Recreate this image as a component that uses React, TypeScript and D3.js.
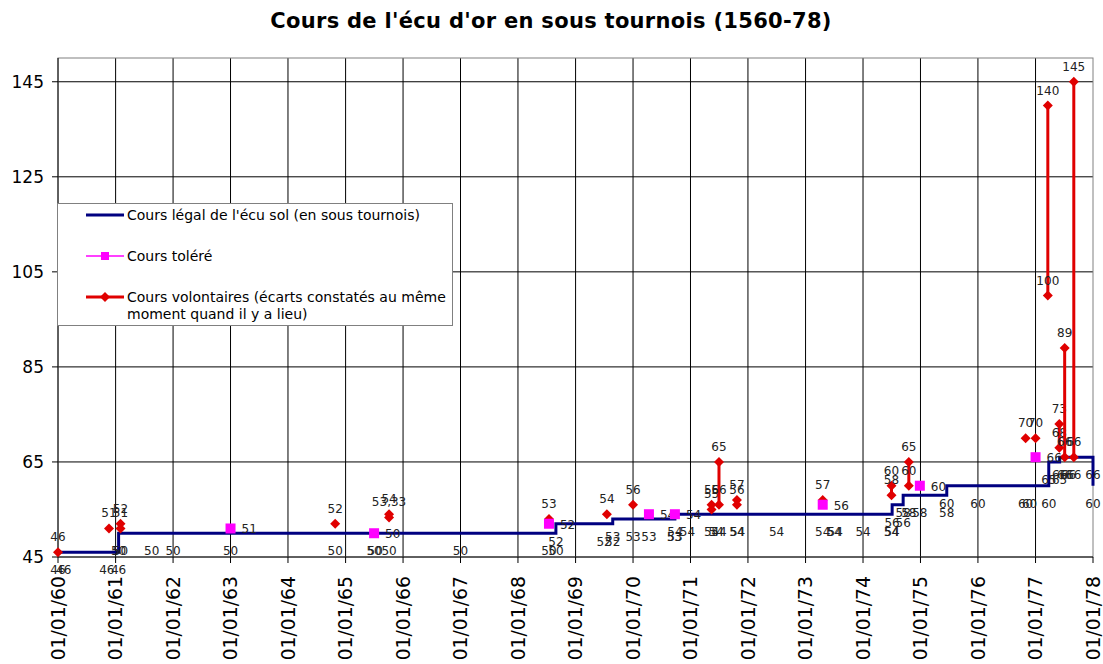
import * as d3 from 'd3';

// Cours légal (step line), one entry per point
const legalDates = [
  '1560-01-01', '1560-02-06', '1560-11-06', '1561-01-20', '1561-01-20', '1561-02-01',
  '1561-08-18', '1562-01-01', '1563-01-01', '1564-10-27', '1565-07-01', '1565-07-08',
  '1565-10-04', '1567-01-01', '1568-07-16', '1568-08-29', '1568-08-29', '1569-07-01',
  '1569-08-25', '1569-08-25', '1570-01-01', '1570-04-12', '1570-09-20', '1570-09-24',
  '1570-09-24', '1570-12-13', '1571-05-15', '1571-06-13', '1571-07-01', '1571-10-23',
  '1571-10-27', '1572-07-01', '1573-04-20', '1573-07-01', '1573-07-08', '1574-01-01',
  '1574-07-01', '1574-07-05', '1574-07-05', '1574-09-13', '1574-09-13', '1574-10-19',
  '1574-12-28', '1575-06-17', '1575-06-17', '1576-01-01', '1576-10-30', '1576-11-24',
  '1577-03-26', '1577-03-26', '1577-06-03', '1577-06-03', '1577-07-05', '1577-07-30',
  '1577-09-01', '1578-01-01', '1578-01-01',
];
const legalValues = [
  46, 46, 46, 46, 50, 50,
  50, 50, 50, 50, 50, 50,
  50, 50, 50, 50, 52, 52,
  52, 53, 53, 53, 53, 53,
  54, 54, 54, 54, 54, 54,
  54, 54, 54, 54, 54, 54,
  54, 54, 56, 56, 58, 58,
  58, 58, 60, 60, 60, 60,
  60, 65, 65, 66, 66, 66,
  66, 66, 60,
];

// Cours toléré
const toleratedDates = [
  '1563-01-01', '1565-07-01', '1568-07-16', '1570-04-12',
  '1570-09-24', '1573-04-20', '1574-12-28', '1577-01-01',
];
const toleratedValues = [51, 50, 52, 54, 54, 56, 60, 66];

// Cours volontaires: one or two values (range) per date
const voluntaryDates = [
  '1560-01-01', '1560-11-20', '1561-02-01', '1564-10-27', '1565-10-04',
  '1568-07-16', '1569-07-19', '1570-01-01', '1571-05-15', '1571-07-01',
  '1571-10-23', '1573-04-20', '1574-07-01', '1574-10-19', '1576-10-30',
  '1577-01-01', '1577-03-20', '1577-06-01', '1577-07-05', '1577-09-01',
];
const voluntaryValues = [
  [46], [51], [52, 51], [52], [54, 53.33],
  [53], [54], [56], [56, 55], [65, 56],
  [57, 56], [57], [60, 58], [65, 60], [70],
  [70], [140, 100], [73, 68], [89, 66], [145, 66],
];

const yTicks = [45, 65, 85, 105, 125, 145];

const W = 1103;
const H = 664;
const FONT = 'Verdana, "DejaVu Sans", sans-serif';
const NAVY = '#000080';
const MAGENTA = '#ff00ff';
const RED = '#e00000';

const parse = d3.utcParse('%Y-%m-%d');
const fmtDate = d3.utcFormat('%d/%m/%y');
const fmtVal = (v: number) => (Number.isInteger(v) ? String(v) : v.toFixed(2).replace('.', ','));

const diamond = (x: number, y: number, r: number) =>
  `M${x},${y - r}L${x + r},${y}L${x},${y + r}L${x - r},${y}Z`;

export default function App() {
  const x = d3
    .scaleUtc()
    .domain([parse('1560-01-01')!, parse('1578-01-01')!])
    .range([58, 1093]);
  const y = d3.scaleLinear().domain([45, 150]).range([557, 58]);

  const xTicks = d3.utcYear.range(parse('1560-01-01')!, parse('1578-01-02')!);

  const legal = legalDates.map((d, i) => ({ date: parse(d)!, value: legalValues[i] }));
  const tolerated = toleratedDates.map((d, i) => ({ date: parse(d)!, value: toleratedValues[i] }));
  const voluntary = voluntaryDates.map((d, i) => ({ date: parse(d)!, values: voluntaryValues[i] }));

  const legalLine = d3
    .line<{ date: Date; value: number }>()
    .x((d) => x(d.date))
    .y((d) => y(d.value));

  const [x0, x1] = x.range();
  const [yb, yt] = y.range();

  return (
    <svg
      width={W}
      height={H}
      style={{ position: 'absolute', left: 0, top: 0, background: '#fff' }}
      fontFamily={FONT}
    >
      <rect width={W} height={H} fill="#fff" />
      <text
        x={551}
        y={28}
        textAnchor="middle"
        fontSize={21}
        letterSpacing={0.3}
        fontWeight="bold"
        fill="#000"
      >
        Cours de l'écu d'or en sous tournois (1560-78)
      </text>

      {/* grid */}
      {xTicks.slice(1, -1).map((t) => (
        <line key={+t} x1={x(t)} x2={x(t)} y1={yt} y2={yb} stroke="#000" strokeWidth={1} />
      ))}
      {yTicks.slice(1).map((v) => (
        <line key={v} x1={x0} x2={x1} y1={y(v)} y2={y(v)} stroke="#000" strokeWidth={1} />
      ))}
      <rect x={x0} y={yt} width={x1 - x0} height={yb - yt} fill="none" stroke="#808080" />

      {/* axes */}
      <line x1={x0} x2={x0} y1={yt} y2={yb} stroke="#000" />
      <line x1={x0} x2={x1} y1={yb} y2={yb} stroke="#000" />
      {yTicks.map((v) => (
        <g key={v}>
          <line x1={x0 - 6} x2={x0} y1={y(v)} y2={y(v)} stroke="#000" />
          <text x={44} y={y(v)} dy="0.35em" textAnchor="end" fontSize={17} fill="#000">
            {v}
          </text>
        </g>
      ))}
      {xTicks.map((t) => (
        <g key={+t}>
          <line x1={x(t)} x2={x(t)} y1={yb} y2={yb + 6} stroke="#000" />
          <text
            transform={`translate(${x(t)},${yb + 19}) rotate(-90)`}
            dy="0.35em"
            textAnchor="end"
            fontSize={18.8}
            fill="#000"
          >
            {fmtDate(t)}
          </text>
        </g>
      ))}

      {/* cours légal */}
      <path d={legalLine(legal) ?? ''} fill="none" stroke={NAVY} strokeWidth={3} />
      {legal.map((d, i) => (
        <text
          key={`l${i}`}
          x={x(d.date)}
          y={y(d.value) + 22}
          textAnchor="middle"
          fontSize={12}
          fill="#222"
        >
          {fmtVal(d.value)}
        </text>
      ))}

      {/* cours volontaires */}
      {voluntary.map((d, i) => {
        const cx = x(d.date);
        return (
          <g key={`v${i}`}>
            {d.values.length > 1 && (
              <line
                x1={cx}
                x2={cx}
                y1={y(d3.max(d.values)!)}
                y2={y(d3.min(d.values)!)}
                stroke={RED}
                strokeWidth={3}
              />
            )}
            {d.values.map((v, j) => (
              <path key={j} d={diamond(cx, y(v), 5)} fill={RED} />
            ))}
            {d.values.map((v, j) => (
              <text
                key={`t${j}`}
                x={cx}
                y={y(v) - 11}
                textAnchor="middle"
                fontSize={12}
                fill="#222"
              >
                {fmtVal(v)}
              </text>
            ))}
          </g>
        );
      })}

      {/* cours toléré */}
      {tolerated.map((d, i) => (
        <g key={`t${i}`}>
          <rect x={x(d.date) - 5} y={y(d.value) - 5} width={10} height={10} fill={MAGENTA} />
          <text x={x(d.date) + 11} y={y(d.value) + 5} fontSize={12} fill="#222">
            {fmtVal(d.value)}
          </text>
        </g>
      ))}

      {/* legend */}
      <g>
        <rect x={57.5} y={203.5} width={395} height={122} fill="#fff" stroke="#808080" />
        <line x1={86} x2={124} y1={215} y2={215} stroke={NAVY} strokeWidth={3} />
        <text x={127} y={215} dy="0.35em" fontSize={14} fill="#000">
          Cours légal de l'écu sol (en sous tournois)
        </text>
        <line x1={86} x2={124} y1={256} y2={256} stroke={MAGENTA} strokeWidth={1.5} />
        <rect x={101} y={252} width={8} height={8} fill={MAGENTA} />
        <text x={127} y={256} dy="0.35em" fontSize={14} fill="#000">
          Cours toléré
        </text>
        <line x1={86} x2={124} y1={297} y2={297} stroke={RED} strokeWidth={3} />
        <path d={diamond(105, 297, 5)} fill={RED} />
        <text x={127} y={297} dy="0.35em" fontSize={14} fill="#000">
          Cours volontaires (écarts constatés au même
        </text>
        <text x={127} y={314} dy="0.35em" fontSize={14} fill="#000">
          moment quand il y a lieu)
        </text>
      </g>
    </svg>
  );
}
